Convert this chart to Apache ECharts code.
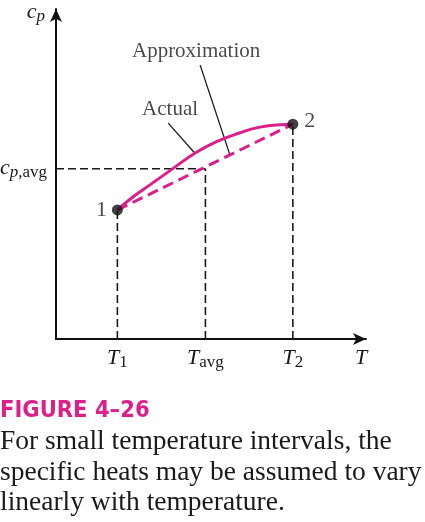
<!DOCTYPE html>
<html>
<head>
<meta charset="utf-8">
<script src="https://cdn.jsdelivr.net/npm/echarts@6/dist/echarts.min.js"></script>
<style>
  html, body { margin: 0; padding: 0; background: #fff; }
  #chart { width: 425px; height: 522px; }
</style>
</head>
<body>
<div id="chart"></div>
<script>
// temperatures (T1, Tavg, T2) and matching cp values, arbitrary units
var tempNames = ['1', 'avg', '2'];
var tempValues = [19.8, 48.2, 76.4];
var cpValues = [39.1, 51.6, 65.1];
var cpAvg = 51.6;

// actual cp(T) curve
var actualT = [19.8, 24.9, 30.3, 37.8, 44.8, 51.8, 59.4, 65.8, 72.3, 76.4];
var actualCp = [39.1, 43.1, 46.7, 51.7, 56.3, 59.8, 62.5, 64.2, 64.9, 65.1];

// text callouts and their leader lines
var noteNames = ['Approximation', 'Actual'];
var notePos = [[45.2, 87.0], [36.8, 69.4]];
var leaderLines = [
    [[46.5, 83.0], [56.1, 55.8]],
    [[36.2, 65.4], [44.8, 56.3]]
];

var captionTitle = 'FIGURE 4–26';
var captionLines = [
    'For small temperature intervals, the',
    'specific heats may be assumed to vary',
    'linearly with temperature.'
];

var magenta = '#dc1f8b';
var ink = '#1a1a1a';
var serif = 'Liberation Serif';

var richText = {
    it: { fontFamily: serif, fontStyle: 'italic', fontSize: 22, color: ink, verticalAlign: 'top', lineHeight: 24 },
    sub: { fontFamily: serif, fontSize: 17, color: ink, verticalAlign: 'top', lineHeight: 24, padding: [7, 0, 0, 0] },
    subit: { fontFamily: serif, fontStyle: 'italic', fontSize: 17, color: ink, verticalAlign: 'top', lineHeight: 24, padding: [7, 0, 0, 0] }
};

var p1 = [tempValues[0], cpValues[0]];
var p2 = [tempValues[2], cpValues[2]];

// black dashed guides
var guides = [
    [[tempValues[0], 0], p1],
    [[tempValues[2], 0], p2],
    [[tempValues[1], 0], [tempValues[1], cpAvg]],
    [[0, cpAvg], [tempValues[1], cpAvg]]
];

var series = [];
guides.forEach(function (seg) {
    series.push({
        type: 'line', data: seg, symbol: 'none', silent: true, z: 1,
        lineStyle: { color: ink, width: 1.6, type: [8, 4] }
    });
});
leaderLines.forEach(function (seg) {
    series.push({
        type: 'line', data: seg, symbol: 'none', silent: true, z: 1,
        lineStyle: { color: ink, width: 1.3 }
    });
});
series.push({
    name: 'Approximation', type: 'line', data: [p1, p2], symbol: 'none', z: 3,
    lineStyle: { color: magenta, width: 3, type: [11, 6] }
});
series.push({
    name: 'Actual', type: 'line', smooth: true, symbol: 'none', z: 3,
    data: actualT.map(function (t, i) { return [t, actualCp[i]]; }),
    lineStyle: { color: magenta, width: 3 }
});
series.push({
    type: 'scatter', symbolSize: 11, z: 5,
    itemStyle: { color: '#111' },
    data: [
        { value: p1, label: { show: true, formatter: '1', position: 'left', distance: 5 } },
        { value: p2, label: { show: true, formatter: '2', position: 'right', distance: 6, offset: [0, -3] } }
    ],
    label: { fontFamily: serif, fontSize: 22, color: ink }
});
series.push({
    type: 'scatter', symbolSize: 0, z: 4,
    data: noteNames.map(function (n, i) { return { name: n, value: notePos[i] }; }),
    label: { show: true, position: 'inside', formatter: '{b}', fontFamily: serif, fontSize: 21, color: ink }
});

var option = {
    animation: false,
    title: [
        {
            text: captionTitle, left: 0, top: 399, padding: 0,
            textStyle: { fontFamily: 'DejaVu Sans Condensed', fontWeight: 'bold', fontSize: 23.5, color: magenta, lineHeight: 24 }
        },
        {
            text: captionLines.join('\n'),
            left: 0, top: 427, padding: 0,
            textStyle: { fontFamily: serif, fontWeight: 'normal', fontSize: 27.5, color: ink, lineHeight: 30.5 }
        }
    ],
    grid: { left: 56, right: 59, top: 9, bottom: 183, containLabel: false, outerBoundsMode: 'none' },
    xAxis: {
        type: 'value', min: 0, max: 100,
        axisLine: { symbol: ['none', 'arrow'], symbolSize: [9, 13], lineStyle: { color: '#111', width: 2 } },
        axisTick: { show: false },
        splitLine: { show: false },
        axisLabel: {
            customValues: tempValues, margin: 8,
            formatter: function (v) {
                var i = tempValues.indexOf(v);
                return '{it|T}{sub|' + tempNames[i] + '}';
            },
            rich: richText
        },
        name: '{it|T}', nameLocation: 'end', nameGap: -5,
        nameTextStyle: { align: 'center', verticalAlign: 'top', padding: [8, 0, 0, 0], rich: richText }
    },
    yAxis: {
        type: 'value', min: 0, max: 100,
        axisLine: { symbol: ['none', 'arrow'], symbolSize: [9, 13], lineStyle: { color: '#111', width: 2 } },
        axisTick: { show: false },
        splitLine: { show: false },
        axisLabel: {
            customValues: [cpAvg], margin: 9,
            formatter: function () { return '{it|c}{subit|p}{sub|,avg}'; },
            rich: richText
        },
        name: '{it|c}{subit|p}', nameLocation: 'end', nameGap: -4,
        nameTextStyle: { align: 'right', verticalAlign: 'middle', padding: [0, 11, 0, 0], rich: richText }
    },
    series: series
};

var chart = echarts.init(document.getElementById('chart'));
chart.setOption(option);
</script>
</body>
</html>
